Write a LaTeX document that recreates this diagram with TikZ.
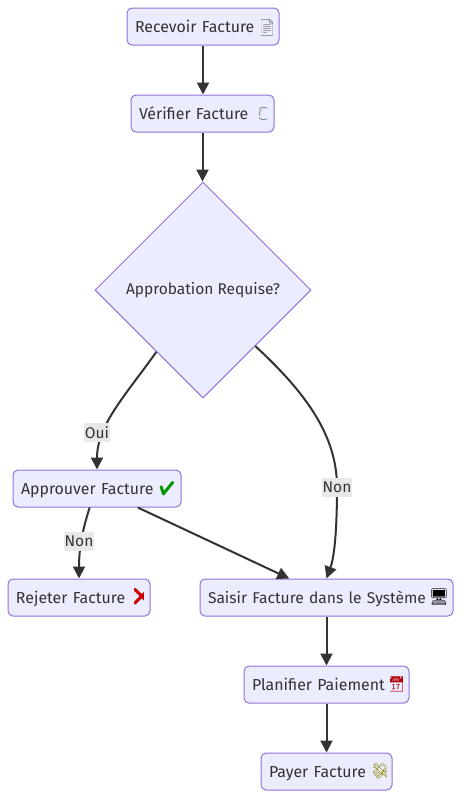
\documentclass[tikz,border=0pt]{standalone}
\usepackage{fontspec}
\setmainfont{Fira Sans}
\newfontfamily\emo{Noto Emoji}
\usetikzlibrary{shapes.geometric,arrows.meta}
\definecolor{nodefill}{HTML}{ECECFF}
\definecolor{nodeline}{HTML}{9370DB}
\definecolor{ink}{HTML}{333333}
\definecolor{lblbg}{HTML}{E8E8E8}
\newcommand{\lbl}[1]{\raisebox{-6pt}[0pt][0pt]{#1}}
\newcommand{\icon}[8]{\begin{scope}\clip (#4,#2-14) rectangle (#5,#2+14);
  \node[iconmark,text=#6,font=\emo\fontsize{#8}{#8}\selectfont] (#1) at (#3,#2) {#7};\end{scope}}
\tikzset{
  box/.style={draw=nodeline,fill=nodefill,rounded corners=5pt,line width=1pt,minimum height=37pt,inner ysep=0pt,inner xsep=8pt,align=left,text=ink,font=\fontsize{15.9}{18}\selectfont},
  decide/.style={draw=nodeline,fill=nodefill,diamond,aspect=1,line width=1pt,minimum width=216pt,minimum height=216pt,inner sep=0pt,text=ink,font=\fontsize{15.5}{18}\selectfont},
  link/.style={draw=ink,line width=2pt,-{Triangle[length=12pt,width=12pt]}},
  tag/.style={fill=lblbg,text=ink,inner xsep=1pt,inner ysep=0pt,minimum height=19pt,font=\fontsize{15.5}{18}\selectfont},
  iconmark/.style={inner sep=0pt}
}
\begin{document}
\begin{tikzpicture}[x=1pt,y=-1pt]
\useasboundingbox (0,0) rectangle (461,798);
\node[box,text width=136pt] (a) at (203,26.5) {\lbl{Recevoir Facture}};
\node[box,text width=127pt] (b) at (202.5,113.5) {\lbl{Vérifier Facture}};
\node[decide] (c) at (203,290) {\raisebox{-2.4pt}{Approbation Requise?}};
\node[box,text width=152pt] (d) at (97,488.5) {\lbl{Approuver Facture}};
\node[box,text width=126pt] (e) at (79,597.5) {\lbl{Rejeter Facture}};
\node[box,text width=237pt] (f) at (326.5,597.5) {\lbl{\fontsize{15.6}{18}\selectfont Saisir Facture dans le Système}};
\node[box,text width=149pt] (g) at (326.5,684.5) {\lbl{Planifier Paiement}};
\node[box,text width=115pt] (h) at (326.5,771.5) {\lbl{Payer Facture}};
\icon{ia}{28}{267}{261}{272}{ink!75}{📄}{16}
\icon{ib}{117}{267}{259}{266.5}{cyan!40!black}{🔍}{19}
\icon{id}{489}{167}{158}{176}{green!60!black}{✔}{14}
\icon{ie}{597}{142}{134}{143}{red!80!black}{❌}{17}
\icon{if}{597}{439}{431}{446}{black}{🖥}{16}
\icon{ig}{684}{396}{390}{402}{red!70!black}{📅}{15}
\icon{ih}{771}{380}{373}{386}{olive}{💸}{15}
\coordinate (ouiP) at (97,432.5);
\coordinate (nonA) at (337,487);
\coordinate (nonB) at (79,541.5);
\draw[link] (a) -- (a |- b.north);
\draw[link] (b) -- (b |- c.north);
\draw[link] (f) -- (g);
\draw[link] (g) -- (h);
\draw[link] (c.233.9) .. controls (125,396) and (97,425) .. (d.north);
\draw[link] (c.-47) .. controls (305,392) and (337,435) .. (nonA) .. controls (337,525) and (335,555) .. (f.north);
\draw[link] (d.249.3) .. controls (84,525) and (79,545) .. (e.north);
\draw[link] (d.335.7) -- (f.153.1);
\node[tag] (oui) at (ouiP) {Oui};
\node[tag] (non1) at (nonA) {Non};
\node[tag] (non2) at (nonB) {Non};
\end{tikzpicture}
\end{document}
